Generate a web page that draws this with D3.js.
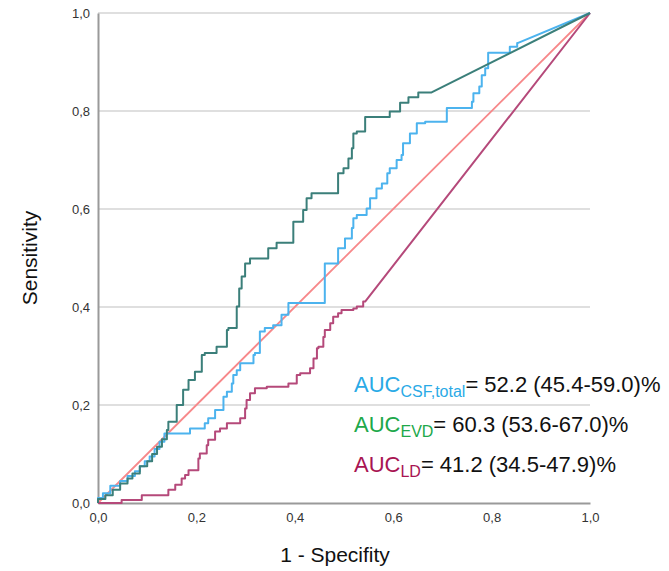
<!DOCTYPE html>
<html>
<head>
<meta charset="utf-8">
<script src="https://cdn.jsdelivr.net/npm/d3@7"></script>
<style>
  body { margin: 0; background: #fff; }
  text { font-family: "Liberation Sans", Arial, sans-serif; }
</style>
</head>
<body>
<div id="chart"></div>
<script>
// ROC curves, [1 - specificity, sensitivity]
var csfTotal = [
  [0,0],[0,0.01],[0.01,0.01],[0.01,0.02],[0.025,0.02],[0.025,0.035],[0.045,0.035],[0.045,0.045],
  [0.06,0.045],[0.06,0.055],[0.075,0.055],[0.075,0.065],[0.085,0.065],[0.085,0.075],[0.095,0.075],
  [0.095,0.085],[0.105,0.085],[0.105,0.095],[0.115,0.095],[0.115,0.11],[0.125,0.11],[0.125,0.125],
  [0.135,0.125],[0.135,0.142],[0.187,0.142],[0.194,0.152],[0.217,0.152],[0.224,0.163],[0.238,0.173],
  [0.255,0.19],[0.262,0.217],[0.272,0.227],[0.275,0.244],[0.282,0.261],[0.289,0.271],[0.295,0.285],
  [0.316,0.285],[0.319,0.302],[0.329,0.306],[0.329,0.343],[0.339,0.35],[0.356,0.357],[0.373,0.363],
  [0.387,0.384],[0.397,0.408],[0.461,0.408],[0.461,0.448],[0.465,0.489],[0.488,0.489],[0.488,0.52],
  [0.502,0.52],[0.505,0.54],[0.516,0.54],[0.519,0.561],[0.526,0.581],[0.546,0.588],[0.553,0.601],
  [0.566,0.622],[0.577,0.642],[0.588,0.652],[0.593,0.673],[0.607,0.683],[0.617,0.7],[0.62,0.71],
  [0.634,0.734],[0.648,0.754],[0.665,0.775],[0.709,0.778],[0.726,0.806],[0.76,0.806],[0.763,0.819],
  [0.775,0.836],[0.78,0.85],[0.787,0.873],[0.793,0.887],[0.8,0.919],[0.837,0.919],[0.837,0.931],
  [0.852,0.931],[0.854,0.939],[1,1]
];
var evd = [
  [0,0],[0,0.008],[0.015,0.008],[0.015,0.016],[0.03,0.016],[0.03,0.027],[0.045,0.027],[0.045,0.04],
  [0.06,0.04],[0.06,0.05],[0.07,0.05],[0.07,0.06],[0.085,0.06],[0.085,0.075],[0.1,0.075],[0.1,0.085],
  [0.11,0.085],[0.11,0.1],[0.12,0.1],[0.12,0.115],[0.13,0.115],[0.13,0.13],[0.14,0.13],[0.143,0.149],
  [0.16,0.166],[0.173,0.2],[0.184,0.231],[0.197,0.251],[0.211,0.268],[0.217,0.302],[0.241,0.306],
  [0.262,0.319],[0.265,0.353],[0.282,0.357],[0.282,0.377],[0.287,0.401],[0.292,0.438],[0.299,0.462],
  [0.309,0.489],[0.312,0.499],[0.346,0.499],[0.346,0.51],[0.363,0.52],[0.378,0.531],[0.397,0.531],
  [0.397,0.571],[0.417,0.574],[0.424,0.598],[0.434,0.622],[0.448,0.632],[0.488,0.632],[0.488,0.642],
  [0.499,0.673],[0.509,0.683],[0.516,0.703],[0.519,0.724],[0.526,0.754],[0.543,0.758],[0.543,0.788],
  [0.593,0.788],[0.593,0.799],[0.614,0.799],[0.615,0.817],[0.631,0.817],[0.632,0.828],[0.651,0.828],
  [0.653,0.838],[0.678,0.838],[1,1]
];
var ld = [
  [0,0],[0.048,0],[0.048,0.006],[0.089,0.006],[0.089,0.016],[0.143,0.016],[0.143,0.027],[0.157,0.027],
  [0.157,0.037],[0.17,0.037],[0.177,0.05],[0.184,0.057],[0.204,0.067],[0.207,0.091],[0.221,0.101],
  [0.224,0.118],[0.238,0.129],[0.248,0.146],[0.262,0.152],[0.289,0.163],[0.299,0.173],[0.302,0.193],
  [0.309,0.21],[0.319,0.224],[0.343,0.234],[0.387,0.237],[0.39,0.244],[0.404,0.244],[0.411,0.261],
  [0.431,0.265],[0.438,0.275],[0.445,0.295],[0.448,0.316],[0.458,0.319],[0.461,0.339],[0.472,0.353],
  [0.478,0.367],[0.488,0.38],[0.495,0.387],[0.519,0.394],[0.526,0.397],[0.539,0.401],[0.543,0.411],[1,1]
];
var reference = [[0,0],[1,1]];

var tickValues = [0, 0.2, 0.4, 0.6, 0.8, 1.0];
var legendNames = ["CSF,total", "EVD", "LD"];
var legendValues = ["= 52.2 (45.4-59.0)%", "= 60.3 (53.6-67.0)%", "= 41.2 (34.5-47.9)%"];

var width = 669, height = 571;
var margin = {top: 13, right: 79, bottom: 68, left: 98};
var w = width - margin.left - margin.right,
    h = height - margin.top - margin.bottom;

var svg = d3.select("#chart").append("svg")
    .attr("width", width)
    .attr("height", height);

var g = svg.append("g")
    .attr("transform", "translate(" + margin.left + "," + margin.top + ")");

var x = d3.scaleLinear().domain([0, 1]).range([0, w]);
var y = d3.scaleLinear().domain([0, 1]).range([h, 0]);

var fmt = function(d) { return d3.format(".1f")(d).replace(".", ","); };

// horizontal grid lines
g.append("g")
    .selectAll("line")
    .data(tickValues.slice(1))
    .enter().append("line")
    .attr("x1", 0).attr("x2", w)
    .attr("y1", function(d) { return y(d); })
    .attr("y2", function(d) { return y(d); })
    .attr("stroke", "#d4d4d4")
    .attr("stroke-width", 1.5);

// axes, no tick marks
var xAxis = g.append("g")
    .attr("transform", "translate(0," + h + ")")
    .call(d3.axisBottom(x).tickValues(tickValues).tickFormat(fmt).tickSize(0).tickPadding(10));
var yAxis = g.append("g")
    .call(d3.axisLeft(y).tickValues(tickValues).tickFormat(fmt).tickSize(0).tickPadding(8));

[xAxis, yAxis].forEach(function(a) {
    a.select(".domain").attr("stroke", "#9a9a9a").attr("stroke-width", 2);
    a.selectAll("text")
        .attr("fill", "#333")
        .style("font-size", "13px")
        .style("font-family", "'Liberation Sans', Arial, sans-serif");
});

// make steps: vertical then horizontal, the last tied segment stays straight
function toSteps(pts) {
    var out = [pts[0]];
    for (var i = 1; i < pts.length; i++) {
        var p = pts[i - 1], q = pts[i];
        if (i < pts.length - 1 && p[0] != q[0] && p[1] != q[1]) {
            out.push([p[0], q[1]]);
        }
        out.push(q);
    }
    return out;
}

var line = d3.line()
    .x(function(d) { return x(d[0]); })
    .y(function(d) { return y(d[1]); });

g.append("path")
    .datum(reference)
    .attr("d", line)
    .attr("fill", "none")
    .attr("stroke", "#f7888a")
    .attr("stroke-width", 1.8);

var curves = [
    {data: ld, color: "#b5497a"},
    {data: csfTotal, color: "#4cb3ee"},
    {data: evd, color: "#3b7f7a"}
];
curves.forEach(function(c) {
    g.append("path")
        .datum(toSteps(c.data))
        .attr("d", line)
        .attr("fill", "none")
        .attr("stroke", c.color)
        .attr("stroke-width", 2)
        .attr("stroke-linejoin", "round");
});

// legend with AUC values
var legendColors = ["#2aaae6", "#20a84a", "#a81452"];
var legend = svg.append("g");
legendNames.forEach(function(name, i) {
    var t = legend.append("text")
        .attr("x", 354)
        .attr("y", 392 + i * 40)
        .style("font-size", "22px")
        .attr("fill", "#111");
    t.append("tspan").attr("fill", legendColors[i]).text("AUC");
    t.append("tspan").attr("fill", legendColors[i])
        .attr("dy", 5).style("font-size", "16px").text(name);
    t.append("tspan").attr("dy", -5).text(legendValues[i]);
});

// axis titles
svg.append("text")
    .attr("x", margin.left + w / 2 - 9)
    .attr("y", 562)
    .attr("text-anchor", "middle")
    .style("font-size", "21px")
    .attr("fill", "#111")
    .text("1 - Specifity");

svg.append("text")
    .attr("transform", "translate(37," + (margin.top + h / 2) + ") rotate(-90)")
    .attr("text-anchor", "middle")
    .style("font-size", "21px")
    .attr("fill", "#111")
    .text("Sensitivity");
</script>
</body>
</html>
